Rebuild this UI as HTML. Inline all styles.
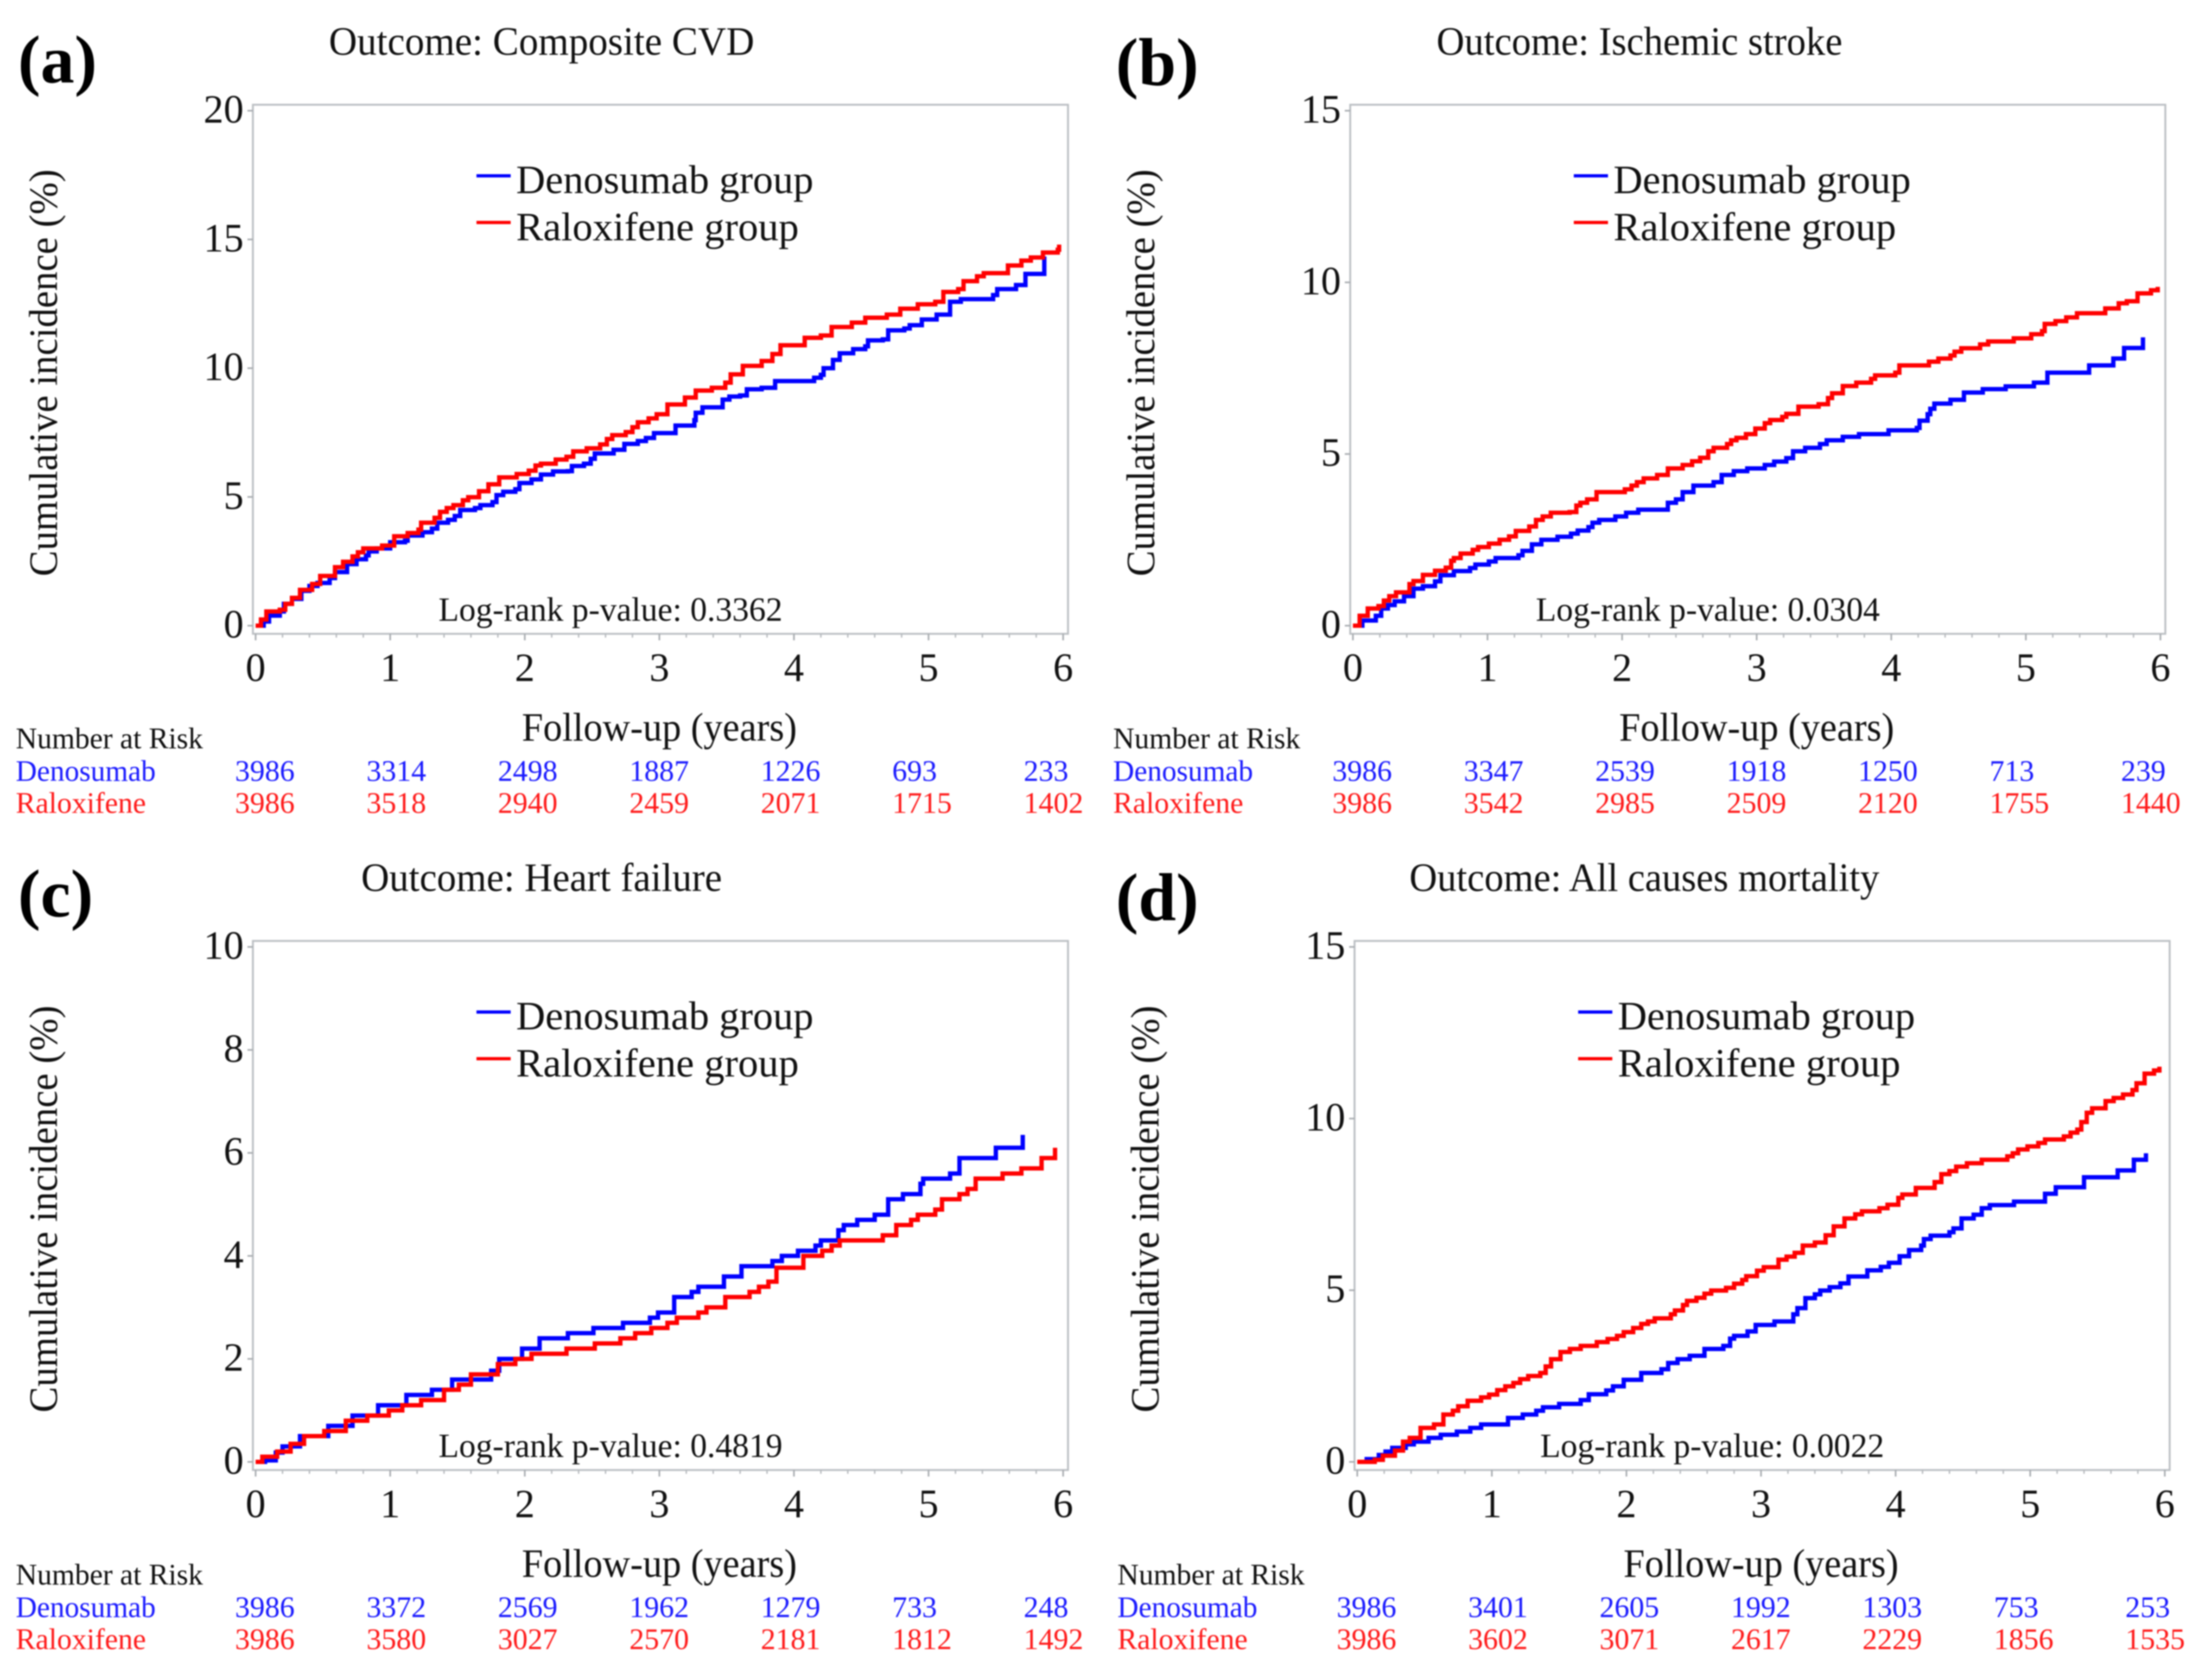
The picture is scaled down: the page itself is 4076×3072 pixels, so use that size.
<!DOCTYPE html>
<html lang="en">
<head>
<meta charset="utf-8">
<title>Cumulative incidence panels</title>
<style>
html,body{margin:0;padding:0;background:#fff;width:4076px;height:3072px;overflow:hidden}
svg{display:block;filter:blur(1.4px)}
text{font-family:"Liberation Serif","Times New Roman",serif;fill:#111}
.tick{font-size:74px}
.title,.axt,.leg{font-size:74px}
.lr{font-size:62px}
.risk{font-size:55px}
.blue{fill:#1a1aff}
.red{fill:#ff1a1a}
.tag{font-size:125px;font-weight:bold;fill:#000}
</style>
</head>
<body>
<svg id="chart" xmlns="http://www.w3.org/2000/svg" width="4076" height="3072" viewBox="0 0 4076 3072">
<rect width="4076" height="3072" fill="#fff"/>

<text class="tag" x="33" y="152">(a)</text>
<text class="tag" x="2056" y="157">(b)</text>
<text class="tag" x="33" y="1689">(c)</text>
<text class="tag" x="2056" y="1696">(d)</text>

<g id="panel-a" transform="translate(0,0)">
  <text class="title" x="998" y="101" text-anchor="middle" textLength="784" lengthAdjust="spacingAndGlyphs">Outcome: Composite CVD</text>
  <rect x="466" y="193" width="1502" height="975" fill="none" stroke="#bcc0c4" stroke-width="3.5"/>
  <g class="axes"></g>
  <g class="marks"></g>
  <rect x="878" y="321" width="63" height="6" fill="#0000ff"/>
  <text class="leg" x="951" y="356" textLength="548" lengthAdjust="spacingAndGlyphs">Denosumab group</text>
  <rect x="878" y="407" width="63" height="6" fill="#ff0000"/>
  <text class="leg" x="951" y="443" textLength="521" lengthAdjust="spacingAndGlyphs">Raloxifene group</text>
  <text class="lr" x="808" y="1144" textLength="634" lengthAdjust="spacingAndGlyphs">Log-rank p-value: 0.3362</text>
  <text class="axt" x="1215" y="1365" text-anchor="middle" textLength="507" lengthAdjust="spacingAndGlyphs">Follow-up (years)</text>
  <text class="axt" x="105" y="687" text-anchor="middle" transform="rotate(-90 105 687)" textLength="750" lengthAdjust="spacingAndGlyphs">Cumulative incidence (%)</text>
  <text class="risk" x="29" y="1379" textLength="345" lengthAdjust="spacingAndGlyphs">Number at Risk</text>
  <text class="risk blue" x="29" y="1439" textLength="258" lengthAdjust="spacingAndGlyphs">Denosumab</text>
  <text class="risk red" x="29" y="1498" textLength="240" lengthAdjust="spacingAndGlyphs">Raloxifene</text>
  <g class="risk-values"></g>
</g>

<g id="panel-b" transform="translate(2022,0)">
  <text class="title" x="999" y="101" text-anchor="middle" textLength="748" lengthAdjust="spacingAndGlyphs">Outcome: Ischemic stroke</text>
  <rect x="466" y="193" width="1502" height="975" fill="none" stroke="#bcc0c4" stroke-width="3.5"/>
  <g class="axes"></g>
  <g class="marks"></g>
  <rect x="878" y="321" width="63" height="6" fill="#0000ff"/>
  <text class="leg" x="951" y="356" textLength="548" lengthAdjust="spacingAndGlyphs">Denosumab group</text>
  <rect x="878" y="407" width="63" height="6" fill="#ff0000"/>
  <text class="leg" x="951" y="443" textLength="521" lengthAdjust="spacingAndGlyphs">Raloxifene group</text>
  <text class="lr" x="808" y="1144" textLength="634" lengthAdjust="spacingAndGlyphs">Log-rank p-value: 0.0304</text>
  <text class="axt" x="1215" y="1365" text-anchor="middle" textLength="507" lengthAdjust="spacingAndGlyphs">Follow-up (years)</text>
  <text class="axt" x="105" y="687" text-anchor="middle" transform="rotate(-90 105 687)" textLength="750" lengthAdjust="spacingAndGlyphs">Cumulative incidence (%)</text>
  <text class="risk" x="29" y="1379" textLength="345" lengthAdjust="spacingAndGlyphs">Number at Risk</text>
  <text class="risk blue" x="29" y="1439" textLength="258" lengthAdjust="spacingAndGlyphs">Denosumab</text>
  <text class="risk red" x="29" y="1498" textLength="240" lengthAdjust="spacingAndGlyphs">Raloxifene</text>
  <g class="risk-values"></g>
</g>

<g id="panel-c" transform="translate(0,1541)">
  <text class="title" x="998" y="101" text-anchor="middle" textLength="665" lengthAdjust="spacingAndGlyphs">Outcome: Heart failure</text>
  <rect x="466" y="193" width="1502" height="975" fill="none" stroke="#bcc0c4" stroke-width="3.5"/>
  <g class="axes"></g>
  <g class="marks"></g>
  <rect x="878" y="321" width="63" height="6" fill="#0000ff"/>
  <text class="leg" x="951" y="356" textLength="548" lengthAdjust="spacingAndGlyphs">Denosumab group</text>
  <rect x="878" y="407" width="63" height="6" fill="#ff0000"/>
  <text class="leg" x="951" y="443" textLength="521" lengthAdjust="spacingAndGlyphs">Raloxifene group</text>
  <text class="lr" x="808" y="1144" textLength="634" lengthAdjust="spacingAndGlyphs">Log-rank p-value: 0.4819</text>
  <text class="axt" x="1215" y="1365" text-anchor="middle" textLength="507" lengthAdjust="spacingAndGlyphs">Follow-up (years)</text>
  <text class="axt" x="105" y="687" text-anchor="middle" transform="rotate(-90 105 687)" textLength="750" lengthAdjust="spacingAndGlyphs">Cumulative incidence (%)</text>
  <text class="risk" x="29" y="1379" textLength="345" lengthAdjust="spacingAndGlyphs">Number at Risk</text>
  <text class="risk blue" x="29" y="1439" textLength="258" lengthAdjust="spacingAndGlyphs">Denosumab</text>
  <text class="risk red" x="29" y="1498" textLength="240" lengthAdjust="spacingAndGlyphs">Raloxifene</text>
  <g class="risk-values"></g>
</g>

<g id="panel-d" transform="translate(2030,1541)">
  <text class="title" x="1000" y="101" text-anchor="middle" textLength="866" lengthAdjust="spacingAndGlyphs">Outcome: All causes mortality</text>
  <rect x="466" y="193" width="1502" height="975" fill="none" stroke="#bcc0c4" stroke-width="3.5"/>
  <g class="axes"></g>
  <g class="marks"></g>
  <rect x="878" y="321" width="63" height="6" fill="#0000ff"/>
  <text class="leg" x="951" y="356" textLength="548" lengthAdjust="spacingAndGlyphs">Denosumab group</text>
  <rect x="878" y="407" width="63" height="6" fill="#ff0000"/>
  <text class="leg" x="951" y="443" textLength="521" lengthAdjust="spacingAndGlyphs">Raloxifene group</text>
  <text class="lr" x="808" y="1144" textLength="634" lengthAdjust="spacingAndGlyphs">Log-rank p-value: 0.0022</text>
  <text class="axt" x="1215" y="1365" text-anchor="middle" textLength="507" lengthAdjust="spacingAndGlyphs">Follow-up (years)</text>
  <text class="axt" x="105" y="687" text-anchor="middle" transform="rotate(-90 105 687)" textLength="750" lengthAdjust="spacingAndGlyphs">Cumulative incidence (%)</text>
  <text class="risk" x="29" y="1379" textLength="345" lengthAdjust="spacingAndGlyphs">Number at Risk</text>
  <text class="risk blue" x="29" y="1439" textLength="258" lengthAdjust="spacingAndGlyphs">Denosumab</text>
  <text class="risk red" x="29" y="1498" textLength="240" lengthAdjust="spacingAndGlyphs">Raloxifene</text>
  <g class="risk-values"></g>
</g>
</svg>

<script>
const xTicks = [0,1,2,3,4,5,6];
const xMinorTicks = [0.2,0.4,0.6,0.8,1.2,1.4,1.6,1.8,2.2,2.4,2.6,2.8,3.2,3.4,3.6,3.8,4.2,4.4,4.6,4.8,5.2,5.4,5.6,5.8];

const aYTicks = [0,5,10,15,20];
const bYTicks = [0,5,10,15];
const cYTicks = [0,2,4,6,8,10];
const dYTicks = [0,5,10,15];

const aRiskDeno = [3986,3314,2498,1887,1226,693,233];
const aRiskRalo = [3986,3518,2940,2459,2071,1715,1402];
const bRiskDeno = [3986,3347,2539,1918,1250,713,239];
const bRiskRalo = [3986,3542,2985,2509,2120,1755,1440];
const cRiskDeno = [3986,3372,2569,1962,1279,733,248];
const cRiskRalo = [3986,3580,3027,2570,2181,1812,1492];
const dRiskDeno = [3986,3401,2605,1992,1303,753,253];
const dRiskRalo = [3986,3602,3071,2617,2229,1856,1535];

const aDenoYears = [0,0.06,0.1,0.18,0.21,0.27,0.34,0.4,0.46,0.55,0.59,0.68,0.75,0.82,0.84,0.9,1,1.11,1.13,1.24,1.31,1.35,1.43,1.48,1.52,1.63,1.67,1.76,1.79,1.84,1.93,1.96,2.05,2.12,2.21,2.32,2.35,2.44,2.49,2.52,2.66,2.74,2.84,2.9,2.96,3.12,3.26,3.27,3.32,3.47,3.52,3.6,3.65,3.76,3.86,4.15,4.2,4.22,4.29,4.34,4.44,4.53,4.55,4.66,4.7,4.82,4.86,4.95,5.06,5.16,5.24,5.48,5.51,5.65,5.72,5.86];
const aDenoPct = [0,0.16,0.39,0.55,0.85,1.04,1.35,1.54,1.66,1.85,2.08,2.39,2.58,2.73,2.88,3,3.24,3.3,3.5,3.63,3.77,4,4.11,4.26,4.49,4.57,4.68,4.8,5.07,5.2,5.3,5.54,5.68,5.87,5.99,6,6.2,6.29,6.48,6.69,6.83,7.06,7.17,7.29,7.48,7.77,7.98,8.27,8.48,8.78,8.9,8.94,9.18,9.24,9.5,9.63,9.74,10,10.32,10.58,10.74,10.85,11.08,11.12,11.47,11.54,11.67,11.89,12.08,12.58,12.68,12.84,13.07,13.23,13.66,14.34];
const aRaloYears = [0,0.04,0.08,0.18,0.22,0.27,0.33,0.42,0.48,0.59,0.65,0.72,0.76,0.8,0.94,1.03,1.13,1.21,1.23,1.33,1.37,1.42,1.47,1.54,1.58,1.66,1.73,1.81,1.94,2.03,2.08,2.12,2.23,2.31,2.36,2.46,2.56,2.61,2.65,2.75,2.8,2.84,2.92,2.98,3.06,3.19,3.27,3.39,3.49,3.53,3.62,3.76,3.84,3.9,4.08,4.2,4.28,4.43,4.53,4.69,4.79,4.92,5.05,5.11,5.22,5.26,5.36,5.41,5.59,5.69,5.76,5.85,5.96,5.97];
const aRaloPct = [0,0.24,0.55,0.62,0.85,1.08,1.39,1.62,1.93,2.27,2.48,2.69,2.85,3,3.11,3.47,3.6,3.73,4,4.19,4.42,4.57,4.68,4.87,4.99,5.22,5.49,5.76,5.89,6.02,6.22,6.29,6.45,6.56,6.77,6.89,7.04,7.25,7.4,7.52,7.71,7.9,8.05,8.21,8.59,8.86,9.13,9.24,9.44,9.76,10.09,10.28,10.55,10.89,11.18,11.27,11.6,11.77,11.96,12.08,12.31,12.48,12.58,12.96,13.07,13.38,13.57,13.69,13.99,14.18,14.3,14.49,14.6,14.8];

const bDenoYears = [0,0.07,0.17,0.21,0.26,0.31,0.38,0.45,0.52,0.61,0.65,0.75,0.87,0.91,1.01,1.06,1.23,1.26,1.33,1.4,1.52,1.62,1.67,1.75,1.78,1.83,1.95,2.03,2.12,2.34,2.4,2.45,2.53,2.68,2.74,2.83,2.93,3.06,3.13,3.22,3.27,3.36,3.47,3.52,3.64,3.76,3.98,4.19,4.21,4.27,4.29,4.32,4.44,4.54,4.68,4.85,5.06,5.16,5.47,5.65,5.73,5.87];
const bDenoPct = [0,0.15,0.29,0.5,0.6,0.71,0.86,1.08,1.15,1.29,1.47,1.59,1.68,1.78,1.87,1.97,2.05,2.18,2.37,2.5,2.59,2.68,2.77,2.87,3,3.08,3.18,3.29,3.38,3.58,3.68,3.89,4.08,4.18,4.39,4.5,4.58,4.68,4.78,4.88,5.08,5.18,5.29,5.4,5.5,5.58,5.69,5.76,5.97,6.16,6.32,6.47,6.58,6.79,6.89,6.97,7.08,7.37,7.58,7.78,8.09,8.4];
const bRaloYears = [0,0.05,0.11,0.19,0.23,0.27,0.32,0.42,0.45,0.52,0.61,0.69,0.73,0.75,0.8,0.89,0.93,1.01,1.09,1.16,1.21,1.31,1.36,1.41,1.47,1.61,1.66,1.69,1.74,1.81,2.02,2.07,2.11,2.16,2.26,2.34,2.45,2.52,2.58,2.64,2.68,2.78,2.81,2.85,2.92,2.99,3.06,3.1,3.19,3.22,3.31,3.46,3.53,3.56,3.64,3.74,3.85,3.88,4.03,4.06,4.28,4.35,4.44,4.47,4.52,4.66,4.72,4.91,5.04,5.12,5.14,5.22,5.3,5.38,5.59,5.69,5.75,5.83,5.93,5.98];
const bRaloPct = [0,0.29,0.5,0.57,0.73,0.86,0.97,1.21,1.3,1.48,1.6,1.69,1.89,1.97,2.1,2.21,2.29,2.39,2.5,2.6,2.76,2.89,3.08,3.18,3.29,3.31,3.5,3.58,3.68,3.89,3.97,4.08,4.18,4.29,4.39,4.58,4.68,4.79,4.89,5.08,5.18,5.29,5.4,5.47,5.58,5.74,5.9,5.99,6.08,6.17,6.38,6.45,6.63,6.77,6.98,7.08,7.19,7.29,7.37,7.58,7.69,7.78,7.87,7.98,8.08,8.19,8.28,8.37,8.49,8.58,8.79,8.87,8.98,9.1,9.24,9.39,9.45,9.68,9.77,9.87];

const cDenoYears = [0,0.07,0.15,0.2,0.33,0.54,0.72,0.91,1.09,1.12,1.31,1.46,1.67,1.75,1.81,1.98,2.11,2.32,2.51,2.73,2.93,2.99,3.11,3.24,3.29,3.48,3.61,3.84,3.91,4.03,4.16,4.2,4.33,4.37,4.47,4.6,4.7,4.81,4.94,4.96,5.16,5.23,5.5,5.7];
const cDenoPct = [0,0.03,0.18,0.3,0.5,0.7,0.9,1.1,1.1,1.3,1.4,1.6,1.6,1.77,2,2.2,2.4,2.5,2.6,2.7,2.8,2.9,3.2,3.3,3.4,3.6,3.8,3.9,4,4.1,4.2,4.3,4.5,4.6,4.7,4.8,5.1,5.2,5.4,5.5,5.6,5.9,6.1,6.35];
const cRaloYears = [0,0.05,0.16,0.26,0.36,0.51,0.67,0.83,0.99,1.09,1.23,1.4,1.51,1.6,1.8,1.93,2.05,2.31,2.52,2.71,2.82,2.94,3.06,3.13,3.29,3.35,3.49,3.67,3.74,3.81,3.87,4.07,4.21,4.28,4.34,4.66,4.76,4.87,4.92,5.05,5.1,5.23,5.29,5.35,5.55,5.69,5.84,5.94];
const cRaloPct = [0,0.1,0.2,0.35,0.5,0.6,0.8,0.9,1,1.1,1.2,1.4,1.5,1.7,1.9,2,2.1,2.2,2.3,2.4,2.5,2.6,2.7,2.8,2.9,3,3.2,3.3,3.4,3.5,3.77,4,4.1,4.2,4.3,4.4,4.6,4.7,4.8,4.9,5.1,5.2,5.3,5.5,5.6,5.7,5.9,6.1];

const dDenoYears = [0,0.07,0.16,0.21,0.26,0.36,0.42,0.53,0.62,0.74,0.84,0.92,1.12,1.23,1.33,1.38,1.5,1.66,1.72,1.85,1.9,1.98,2.11,2.26,2.31,2.38,2.47,2.58,2.72,2.77,2.8,2.9,2.96,3.1,3.24,3.27,3.33,3.4,3.44,3.51,3.59,3.65,3.79,3.89,3.95,4.03,4.1,4.19,4.21,4.26,4.4,4.43,4.49,4.58,4.64,4.7,4.88,5.11,5.19,5.4,5.65,5.77,5.86];
const dDenoPct = [0,0.08,0.2,0.3,0.41,0.51,0.59,0.7,0.79,0.88,0.99,1.09,1.28,1.38,1.49,1.59,1.69,1.8,1.97,2.08,2.2,2.39,2.59,2.7,2.88,2.99,3.09,3.29,3.38,3.59,3.67,3.8,3.99,4.09,4.3,4.48,4.77,4.88,4.99,5.09,5.2,5.4,5.58,5.68,5.8,5.99,6.17,6.3,6.49,6.59,6.69,6.8,7.09,7.2,7.39,7.48,7.58,7.81,8,8.29,8.49,8.8,8.99];
const dRaloYears = [0,0.13,0.19,0.28,0.34,0.39,0.47,0.57,0.64,0.71,0.75,0.82,0.92,0.98,1.04,1.1,1.16,1.21,1.27,1.36,1.4,1.44,1.51,1.58,1.66,1.78,1.86,1.93,1.98,2.05,2.11,2.16,2.21,2.33,2.36,2.42,2.45,2.52,2.58,2.63,2.74,2.8,2.86,2.89,2.97,3.02,3.13,3.19,3.25,3.31,3.4,3.48,3.54,3.62,3.7,3.75,3.88,3.94,4.02,4.05,4.15,4.29,4.34,4.4,4.45,4.53,4.64,4.83,4.87,4.91,4.98,5.06,5.11,5.25,5.3,5.35,5.38,5.42,5.46,5.56,5.62,5.69,5.76,5.79,5.85,5.92,5.96];
const dRaloPct = [0,0.06,0.18,0.33,0.59,0.7,0.99,1.09,1.38,1.49,1.62,1.78,1.88,1.96,2.09,2.2,2.3,2.41,2.5,2.59,2.78,2.99,3.2,3.29,3.38,3.49,3.58,3.67,3.78,3.9,4.02,4.09,4.18,4.3,4.41,4.57,4.69,4.78,4.9,4.99,5.07,5.19,5.3,5.41,5.57,5.67,5.89,5.98,6.09,6.3,6.39,6.6,6.86,7.09,7.21,7.3,7.39,7.49,7.69,7.79,7.98,8.15,8.38,8.47,8.6,8.7,8.8,8.9,8.99,9.1,9.19,9.29,9.39,9.48,9.59,9.68,9.9,10.17,10.3,10.51,10.6,10.7,10.83,11.03,11.31,11.4,11.51];

const SVG_NS = 'http://www.w3.org/2000/svg';
const X_ZERO = 471, X_PER_YEAR = 248, Y_ZERO = 1153, Y_SPAN = 949, FRAME_LEFT = 466, FRAME_BOTTOM = 1168;
const RISK_X_START = 433, RISK_X_STEP = 242.2;

function xScale(t){ return X_ZERO + X_PER_YEAR * t; }
function yScale(v, max){ return Y_ZERO - Y_SPAN * v / max; }

function make(tag, parent){
  const el = document.createElementNS(SVG_NS, tag);
  parent.appendChild(el);
  return el;
}

function stepPath(years, pct, max){
  const n = Math.min(years.length, pct.length);
  let d = 'M' + xScale(years[0]).toFixed(1) + ' ' + yScale(pct[0], max).toFixed(1);
  for (let i = 1; i < n; i++){
    d += 'H' + xScale(years[i]).toFixed(1) + 'V' + yScale(pct[i], max).toFixed(1);
  }
  return d;
}

function drawPanel(id, yTicks, denoYears, denoPct, raloYears, raloPct, riskDeno, riskRalo){
  const root = document.getElementById(id);
  const axes = root.querySelector('.axes');
  const marks = root.querySelector('.marks');
  const riskG = root.querySelector('.risk-values');
  const max = yTicks[yTicks.length - 1];

  xTicks.forEach(function(t){
    const tk = make('line', axes);
    
    
    tk.setAttribute('x1', xScale(t)); tk.setAttribute('x2', xScale(t));
    tk.setAttribute('y1', FRAME_BOTTOM); tk.setAttribute('y2', FRAME_BOTTOM + 12);
    tk.setAttribute('stroke', '#a8acb0'); tk.setAttribute('stroke-width', '3');
    const lb = make('text', axes);
    
    
    lb.setAttribute('class', 'tick');
    lb.setAttribute('x', xScale(t)); lb.setAttribute('y', 1255);
    lb.setAttribute('text-anchor', 'middle');
    lb.textContent = t;
  });
  xMinorTicks.forEach(function(t){
    const tk = make('line', axes);
    
    
    tk.setAttribute('x1', xScale(t)); tk.setAttribute('x2', xScale(t));
    tk.setAttribute('y1', FRAME_BOTTOM); tk.setAttribute('y2', FRAME_BOTTOM + 7);
    tk.setAttribute('stroke', '#b4b8bc'); tk.setAttribute('stroke-width', '2.5');
  });
  yTicks.forEach(function(v){
    const tk = make('line', axes);
    
    
    tk.setAttribute('x1', FRAME_LEFT - 10); tk.setAttribute('x2', FRAME_LEFT);
    tk.setAttribute('y1', yScale(v, max)); tk.setAttribute('y2', yScale(v, max));
    tk.setAttribute('stroke', '#a8acb0'); tk.setAttribute('stroke-width', '3');
    const lb = make('text', axes);
    
    
    lb.setAttribute('class', 'tick');
    lb.setAttribute('x', 449); lb.setAttribute('y', yScale(v, max) + 22);
    lb.setAttribute('text-anchor', 'end');
    lb.textContent = v;
  });

  const deno = make('path', marks);
  
  
  deno.setAttribute('d', stepPath(denoYears, denoPct, max));
  deno.setAttribute('fill', 'none');
  deno.setAttribute('stroke', '#0000ff');
  deno.setAttribute('stroke-width', '8');

  const ralo = make('path', marks);
  
  
  ralo.setAttribute('d', stepPath(raloYears, raloPct, max));
  ralo.setAttribute('fill', 'none');
  ralo.setAttribute('stroke', '#ff0000');
  ralo.setAttribute('stroke-width', '8');

  riskDeno.forEach(function(n, i){
    const t = make('text', riskG);
    
    
    t.setAttribute('class', 'risk blue');
    t.setAttribute('x', RISK_X_START + RISK_X_STEP * i);
    t.setAttribute('y', 1439);
    t.textContent = n;
  });
  riskRalo.forEach(function(n, i){
    const t = make('text', riskG);
    
    
    t.setAttribute('class', 'risk red');
    t.setAttribute('x', RISK_X_START + RISK_X_STEP * i);
    t.setAttribute('y', 1498);
    t.textContent = n;
  });
}

drawPanel('panel-a', aYTicks, aDenoYears, aDenoPct, aRaloYears, aRaloPct, aRiskDeno, aRiskRalo);
drawPanel('panel-b', bYTicks, bDenoYears, bDenoPct, bRaloYears, bRaloPct, bRiskDeno, bRiskRalo);
drawPanel('panel-c', cYTicks, cDenoYears, cDenoPct, cRaloYears, cRaloPct, cRiskDeno, cRiskRalo);
drawPanel('panel-d', dYTicks, dDenoYears, dDenoPct, dRaloYears, dRaloPct, dRiskDeno, dRiskRalo);
</script>
</body>
</html>
